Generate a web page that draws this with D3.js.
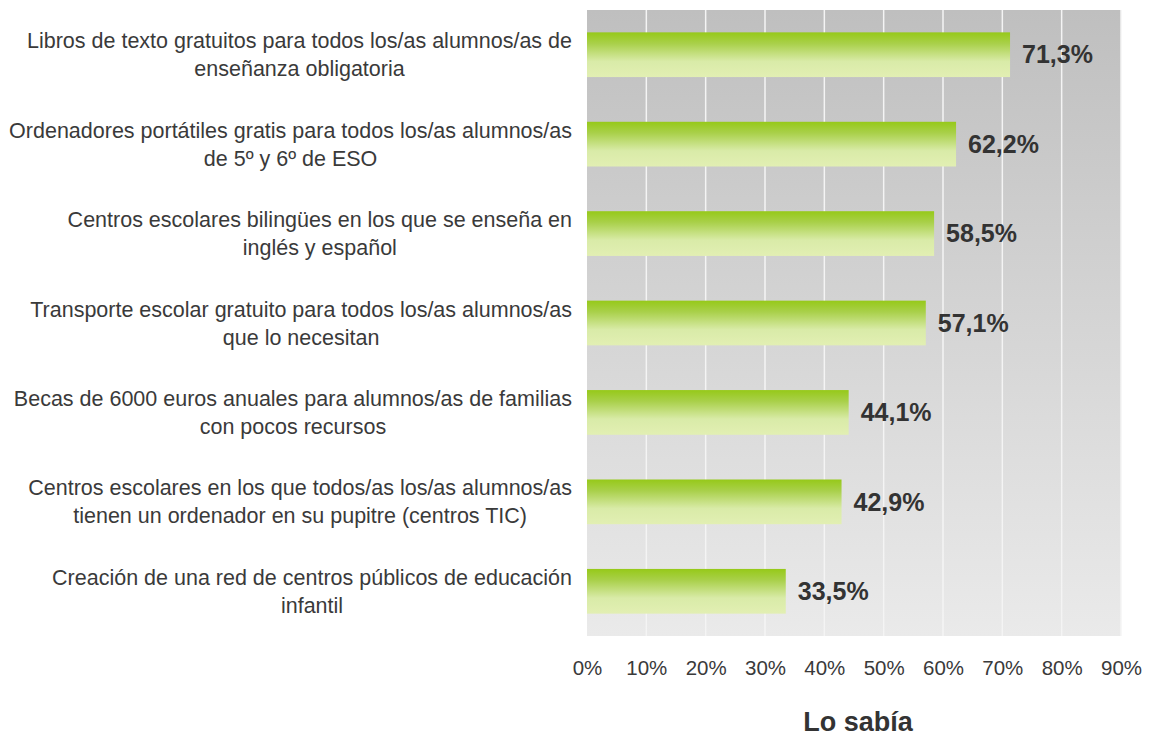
<!DOCTYPE html>
<html>
<head>
<meta charset="utf-8">
<script src="https://cdn.jsdelivr.net/npm/d3@7/dist/d3.min.js"></script>
<style>
  html, body { margin: 0; padding: 0; background: #ffffff; }
  svg { display: block; font-family: "Liberation Sans", Arial, sans-serif; }
</style>
</head>
<body>
<svg id="chart" width="1153" height="736"></svg>
<script>
// Measures, one label (split into lines) per bar, top to bottom
const categories = [
  ["Libros de texto gratuitos para todos los/as alumnos/as de", "enseñanza obligatoria"],
  ["Ordenadores portátiles gratis para todos los/as alumnos/as", "de 5º y 6º de ESO"],
  ["Centros escolares bilingües en los que se enseña en", "inglés y español"],
  ["Transporte escolar gratuito para todos los/as alumnos/as", "que lo necesitan"],
  ["Becas de 6000 euros anuales para alumnos/as de familias", "con pocos recursos"],
  ["Centros escolares en los que todos/as los/as alumnos/as", "tienen un ordenador en su pupitre (centros TIC)"],
  ["Creación de una red de centros públicos de educación", "infantil"]
];
// Share who knew about each measure (%)
const values = [71.3, 62.2, 58.5, 57.1, 44.1, 42.9, 33.5];
const tickValues = [0, 10, 20, 30, 40, 50, 60, 70, 80, 90];
const axisTitle = "Lo sabía";

const svg = d3.select("#chart");
const plot = { left: 587, right: 1121, top: 10, bottom: 636 };

const x = d3.scaleLinear().domain([0, 90]).range([plot.left, plot.right]);
const y = d3.scaleBand()
  .domain(d3.range(values.length))
  .range([plot.top, plot.bottom])
  .paddingInner(0.5)
  .paddingOuter(0.25);

const defs = svg.append("defs");
const bg = defs.append("linearGradient").attr("id", "bgGrad")
  .attr("x1", 0).attr("y1", 0).attr("x2", 0).attr("y2", 1);
bg.append("stop").attr("offset", "0%").attr("stop-color", "#bfbfbf");
bg.append("stop").attr("offset", "100%").attr("stop-color", "#eaeaea");

const barGrad = defs.append("linearGradient").attr("id", "barGrad")
  .attr("x1", 0).attr("y1", 0).attr("x2", 0).attr("y2", 1);
barGrad.append("stop").attr("offset", "0%").attr("stop-color", "#96c919");
barGrad.append("stop").attr("offset", "25%").attr("stop-color", "#a9d04a");
barGrad.append("stop").attr("offset", "65%").attr("stop-color", "#d9eba8");
barGrad.append("stop").attr("offset", "100%").attr("stop-color", "#e2efb3");

// Plot background
svg.append("rect")
  .attr("x", plot.left).attr("y", plot.top)
  .attr("width", plot.right - plot.left).attr("height", plot.bottom - plot.top)
  .attr("fill", "url(#bgGrad)");

// Vertical gridlines
svg.append("g").selectAll("line")
  .data(tickValues.slice(1))
  .join("line")
  .attr("x1", d => x(d)).attr("x2", d => x(d))
  .attr("y1", plot.top).attr("y2", plot.bottom)
  .attr("stroke", "#f4f4f4").attr("stroke-width", 1.5);

// Bars
svg.append("g").selectAll("rect")
  .data(values)
  .join("rect")
  .attr("x", x(0))
  .attr("y", (d, i) => y(i))
  .attr("width", d => x(d) - x(0))
  .attr("height", y.bandwidth())
  .attr("fill", "url(#barGrad)");

// Value labels
const fmt = v => v.toFixed(1).replace(".", ",") + "%";
svg.append("g").selectAll("text")
  .data(values)
  .join("text")
  .attr("x", d => x(d) + 12)
  .attr("y", (d, i) => y(i) + y.bandwidth() / 2)
  .attr("dy", "0.35em")
  .attr("font-size", 25)
  .attr("font-weight", "bold")
  .attr("fill", "#333333")
  .text(d => fmt(d));

// Category labels: each block is centred on its widest line, right-aligned to the plot
const labelRight = 572;
const lineGap = 28;
const catG = svg.append("g");
categories.forEach((lines, i) => {
  const g = catG.append("g");
  const cy = y(i) + y.bandwidth() / 2;
  const texts = lines.map((line, k) => g.append("text")
    .attr("y", cy + (k - (lines.length - 1) / 2) * lineGap)
    .attr("dy", "0.35em")
    .attr("font-size", 21.5)
    .attr("fill", "#3a3a3a")
    .attr("text-anchor", "middle")
    .text(line));
  const widest = d3.max(texts, t => t.node().getComputedTextLength());
  texts.forEach(t => t.attr("x", labelRight - widest / 2));
});

// X axis tick labels
const axis = d3.axisBottom(x).tickValues(tickValues).tickSize(0).tickPadding(0)
  .tickFormat(d => d + "%");
const axG = svg.append("g").attr("transform", `translate(0, ${plot.bottom + 32})`).call(axis);
axG.select(".domain").remove();
axG.selectAll("text")
  .attr("font-size", 20.5)
  .attr("font-family", "Liberation Sans, Arial, sans-serif")
  .attr("fill", "#3a3a3a")
  .attr("dy", "0.35em");

// Axis title
svg.append("text")
  .attr("x", (plot.left + plot.right) / 2 + 4)
  .attr("y", 722)
  .attr("dy", "0.35em")
  .attr("text-anchor", "middle")
  .attr("font-size", 27)
  .attr("font-weight", "bold")
  .attr("fill", "#333333")
  .text(axisTitle);
</script>
</body>
</html>
